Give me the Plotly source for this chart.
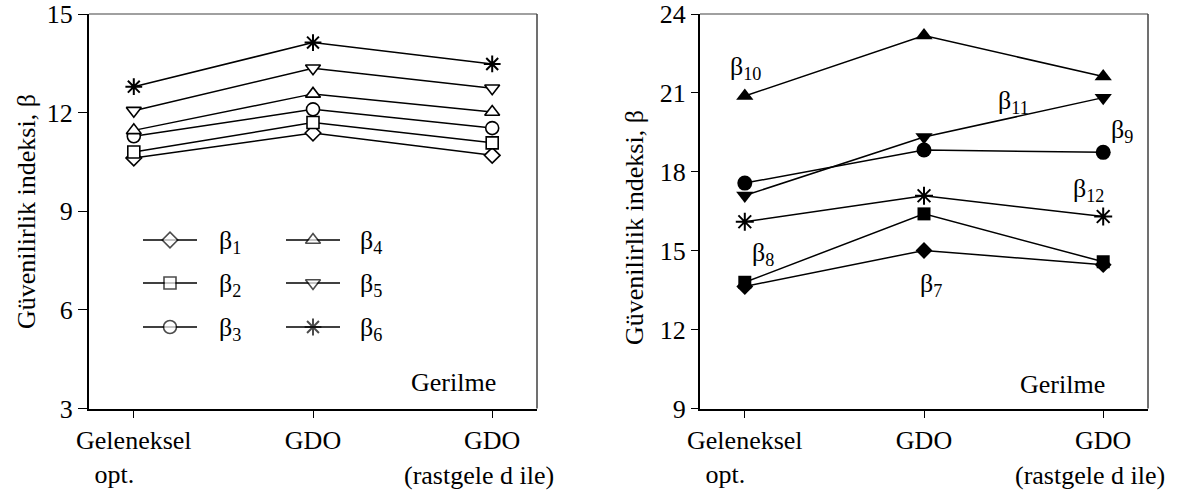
import plotly.graph_objects as go

W, H = 1178, 491
NB = "\u00a0"

# ---------------- data ----------------
x_pos = [0, 1, 2]
tick_text = ["Geleneksel<br>opt." + NB * 6, "GDO", "GDO"]
third_sub = "(rastgele d ile)"

beta1 = [10.62, 11.38, 10.70]
beta2 = [10.80, 11.70, 11.08]
beta3 = [11.28, 12.10, 11.53]
beta4 = [11.46, 12.57, 12.02]
beta5 = [12.06, 13.35, 12.74]
beta6 = [12.79, 14.13, 13.48]

beta7 = [13.64, 15.01, 14.47]
beta8 = [13.80, 16.40, 14.58]
beta9 = [17.57, 18.83, 18.74]
beta10 = [20.88, 23.18, 21.62]
beta11 = [17.10, 19.32, 20.82]
beta12 = [16.10, 17.09, 16.30]

left_names = ["β<sub>1</sub>", "β<sub>2</sub>", "β<sub>3</sub>", "β<sub>4</sub>", "β<sub>5</sub>", "β<sub>6</sub>"]
right_names = ["β<sub>7</sub>", "β<sub>8</sub>", "β<sub>9</sub>", "β<sub>10</sub>", "β<sub>11</sub>", "β<sub>12</sub>"]

left_yticks = [3, 6, 9, 12, 15]
right_yticks = [9, 12, 15, 18, 21, 24]
y_title = "Güvenilirlik indeksi, β"
panel_note = "Gerilme"

# ---------------- styles ----------------
FONT = "Liberation Serif"
FS = 26
syms = ["diamond", "square", "circle", "triangle-up", "triangle-down", "asterisk-open"]
open_sizes = [12, 12, 13, 13, 13, 14]
fill_sizes = [13, 13, 15, 15, 15, 15]


def marker_style(sym, sz, filled):
    if sym == "asterisk-open":
        return dict(symbol=sym, size=sz, color="black", line=dict(color="black", width=2))
    if filled:
        return dict(symbol=sym, size=sz, color="black", line=dict(color="black", width=0))
    return dict(symbol=sym, size=sz, color="white", line=dict(color="black", width=1.6))


fig = go.Figure()

left_data = [beta1, beta2, beta3, beta4, beta5, beta6]
right_data = [beta7, beta8, beta9, beta10, beta11, beta12]

for vals, sym, sz in zip(left_data, syms, open_sizes):
    fig.add_trace(go.Scatter(
        x=x_pos, y=vals, mode="lines+markers", xaxis="x", yaxis="y",
        line=dict(color="black", width=1.5),
        marker=marker_style(sym, sz, False),
        showlegend=False, cliponaxis=False))

for vals, sym, sz in zip(right_data, syms, fill_sizes):
    fig.add_trace(go.Scatter(
        x=x_pos, y=vals, mode="lines+markers", xaxis="x2", yaxis="y2",
        line=dict(color="black", width=1.5),
        marker=marker_style(sym, sz, True),
        showlegend=False, cliponaxis=False))

# ---------------- custom legend (page-pixel overlay axes) ----------------
leg_rows = [240, 283, 327]
leg_cols = [(143, 197, 170, 217), (286, 340, 313, 358)]
for i, (name, sym, sz) in enumerate(zip(left_names, syms, open_sizes)):
    col, row = divmod(i, 3)
    x0, x1, xm, xt = leg_cols[col]
    yy = leg_rows[row]
    ms = marker_style(sym, sz, False)
    ms["size"] = [0, sz, 0]
    fig.add_trace(go.Scatter(
        x=[x0, xm, x1], y=[yy, yy, yy], mode="lines+markers", xaxis="x3", yaxis="y3",
        line=dict(color="black", width=1.5), marker=ms,
        showlegend=False, hoverinfo="skip"))
    fig.add_annotation(x=xt, y=yy + 2, xref="x3", yref="y3", text=name, showarrow=False,
                       xanchor="left", yanchor="middle", font=dict(family=FONT, size=FS, color="black"))

# right panel labels
right_label_pos = [(931, 285), (763, 254), (1122, 131), (745, 68), (1013, 102), (1088, 190)]
for name, (lx, ly) in zip(right_names, right_label_pos):
    fig.add_annotation(x=lx, y=ly, xref="x3", yref="y3", text=name, showarrow=False,
                       xanchor="center", yanchor="middle", font=dict(family=FONT, size=FS, color="black"))

# Gerilme notes
for gx, gy in [(453, 382), (1062, 384)]:
    fig.add_annotation(x=gx, y=gy, xref="x3", yref="y3", text=panel_note, showarrow=False,
                       xanchor="center", yanchor="middle", font=dict(family=FONT, size=FS, color="black"))

# y titles
for tx, ty in [(26, 212), (634, 228)]:
    fig.add_annotation(x=tx, y=ty, xref="x3", yref="y3", text=y_title, showarrow=False, textangle=-90,
                       xanchor="center", yanchor="middle", font=dict(family=FONT, size=FS, color="black"))

# second line of the third category label (shifted left like the reference)
for xr in ["x", "x2"]:
    fig.add_annotation(x=x_pos[2], y=475, xref=xr, yref="y3", text=third_sub, showarrow=False,
                       xanchor="center", yanchor="middle", xshift=-13,
                       font=dict(family=FONT, size=FS, color="black"))

# ---------------- layout ----------------
L_dom = [89 / W, 537 / W]
R_dom = [700 / W, 1148 / W]
Y_dom = [(H - 408.5) / H, (H - 14) / H]


def xax(dom, anchor):
    return dict(domain=dom, anchor=anchor, range=[-0.25, 2.25], tickvals=x_pos, ticktext=tick_text,
                showgrid=False, zeroline=False, showline=True, linecolor="black", linewidth=2,
                ticks="outside", ticklen=7, tickwidth=1, tickcolor="black", ticklabeloverflow="allow",
                tickfont=dict(family=FONT, size=FS, color="black"), fixedrange=True, automargin=False)


def yax(dom, anchor, rng, tv, tlen):
    return dict(domain=dom, anchor=anchor, range=rng, tickvals=tv,
                showgrid=False, zeroline=False, showline=True, linecolor="black", linewidth=2,
                ticks="outside", ticklen=tlen, tickwidth=1, tickcolor="black", ticklabeloverflow="allow",
                tickfont=dict(family=FONT, size=FS, color="black"), fixedrange=True, automargin=False)


fig.update_layout(
    width=W, height=H,
    margin=dict(l=0, r=0, t=0, b=0),
    paper_bgcolor="white", plot_bgcolor="rgba(0,0,0,0)",
    font=dict(family=FONT, size=FS, color="black"),
    xaxis=xax(L_dom, "y"),
    yaxis=yax(Y_dom, "x", [3, 15], left_yticks, 9),
    xaxis2=xax(R_dom, "y2"),
    yaxis2=yax(Y_dom, "x2", [9, 24], right_yticks, 7),
    xaxis3=dict(domain=[0, 1], anchor="y3", range=[0, W], visible=False, fixedrange=True),
    yaxis3=dict(domain=[0, 1], anchor="x3", range=[H, 0], visible=False, fixedrange=True),
    showlegend=False,
)

# frame (top / right borders)
for xr, yr in [("x domain", "y domain"), ("x2 domain", "y2 domain")]:
    fig.add_shape(type="line", xref=xr, yref=yr, x0=0, x1=1, y0=1, y1=1,
                  line=dict(color="#808080", width=1.5), layer="below")
    fig.add_shape(type="line", xref=xr, yref=yr, x0=1, x1=1, y0=0, y1=1,
                  line=dict(color="#404040", width=1.5), layer="below")

fig.write_html("out.html")
